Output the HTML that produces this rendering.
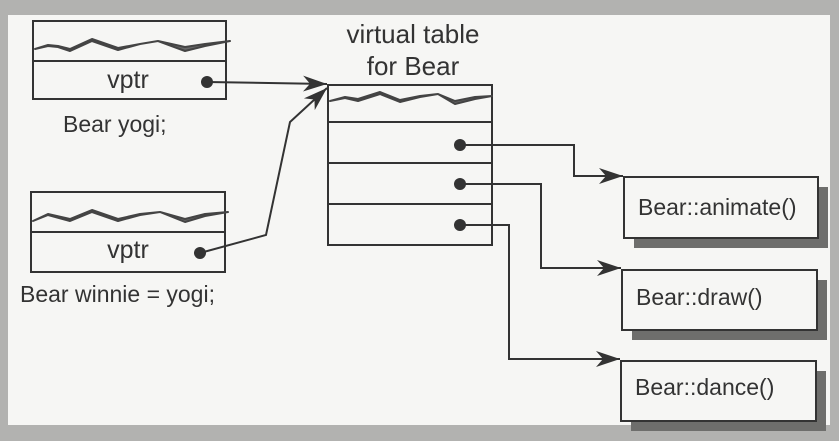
<!DOCTYPE html>
<html><head><meta charset="utf-8"><style>
html,body{margin:0;padding:0;background:#b4b4b2;}
svg{display:block;}
text{font-family:"Liberation Sans",Arial,sans-serif;fill:#333;}
</style></head><body>
<svg width="839" height="441" viewBox="0 0 839 441" xmlns="http://www.w3.org/2000/svg">
<defs>
<marker id="ah" markerWidth="26" markerHeight="18" refX="24" refY="9" orient="auto" markerUnits="userSpaceOnUse">
<path d="M0,1 L24,9 L0,17 L7,9 Z" fill="#333"/>
</marker>
</defs>
<rect x="0" y="0" width="839" height="441" fill="#b2b2b0"/>
<rect x="8" y="15" width="822" height="410" fill="#f6f6f4"/>
<g stroke="#333" stroke-width="2" fill="none">
<rect x="33" y="21" width="193" height="78"/>
<line x1="33" y1="61" x2="226" y2="61"/>
<rect x="31" y="192" width="194" height="80"/>
<line x1="31" y1="232" x2="225" y2="232"/>
<rect x="328" y="85" width="164" height="160"/>
<line x1="328" y1="122" x2="492" y2="122"/>
<line x1="328" y1="163" x2="492" y2="163"/>
<line x1="328" y1="204" x2="492" y2="204"/>
<line x1="207" y1="82" x2="327" y2="84" marker-end="url(#ah)"/>
<polyline points="200,253 266,235 290,122 327,88" marker-end="url(#ah)"/>
<polyline points="460,145 574,145 574,176 623,176" marker-end="url(#ah)"/>
<polyline points="460,184 541,184 541,268 621,268" marker-end="url(#ah)"/>
<polyline points="460,225 509,225 509,359 620,359" marker-end="url(#ah)"/>
</g>
<g stroke="#444" stroke-width="2" fill="#666" stroke-linejoin="round">
<path d="M35,49 L48,46 L58,47 L70,51 L92,41 L118,50 L140,44 L158,41 L185,51 L205,46 L230,41 L205,44 L185,47 L158,41 L140,44 L118,48 L92,39 L70,49 L58,46 L48,45 Z"/>
<path d="M33,221 L48,215 L70,221 L92,212 L118,221 L140,215 L160,212 L185,222 L205,216 L228,212 L205,214 L185,219 L160,212 L140,214 L118,219 L92,210 L70,219 L48,214 Z"/>
<path d="M330,101 L345,98 L358,101 L380,94 L400,102 L420,97 L438,94 L455,104 L475,99 L492,96 L475,97 L455,101 L438,94 L420,96 L400,100 L380,92 L358,99 L345,97 Z"/>
</g>
<g fill="#333">
<circle cx="207" cy="82" r="6"/>
<circle cx="200" cy="253" r="6"/>
<circle cx="460" cy="145" r="6"/>
<circle cx="460" cy="184" r="6"/>
<circle cx="460" cy="225" r="6"/>
</g>
<g fill="#6e6e6c">
<rect x="634" y="187" width="194" height="61"/>
<rect x="632" y="280" width="195" height="60"/>
<rect x="631" y="371" width="195" height="60"/>
</g>
<g stroke="#333" stroke-width="2" fill="#f6f6f4">
<rect x="624" y="177" width="194" height="61"/>
<rect x="622" y="270" width="195" height="60"/>
<rect x="621" y="361" width="195" height="60"/>
</g>
<g font-size="25">
<text x="128" y="88" text-anchor="middle">vptr</text>
<text x="128" y="258" text-anchor="middle">vptr</text>
</g>
<g font-size="26">
<text x="413" y="43" text-anchor="middle">virtual table</text>
<text x="413" y="75" text-anchor="middle">for Bear</text>
</g>
<g font-size="23">
<text x="63" y="132">Bear yogi;</text>
<text x="20" y="302">Bear winnie = yogi;</text>
</g>
<g font-size="23">
<text x="638" y="215">Bear::animate()</text>
<text x="636" y="305">Bear::draw()</text>
<text x="635" y="395">Bear::dance()</text>
</g>
</svg>
</body></html>
